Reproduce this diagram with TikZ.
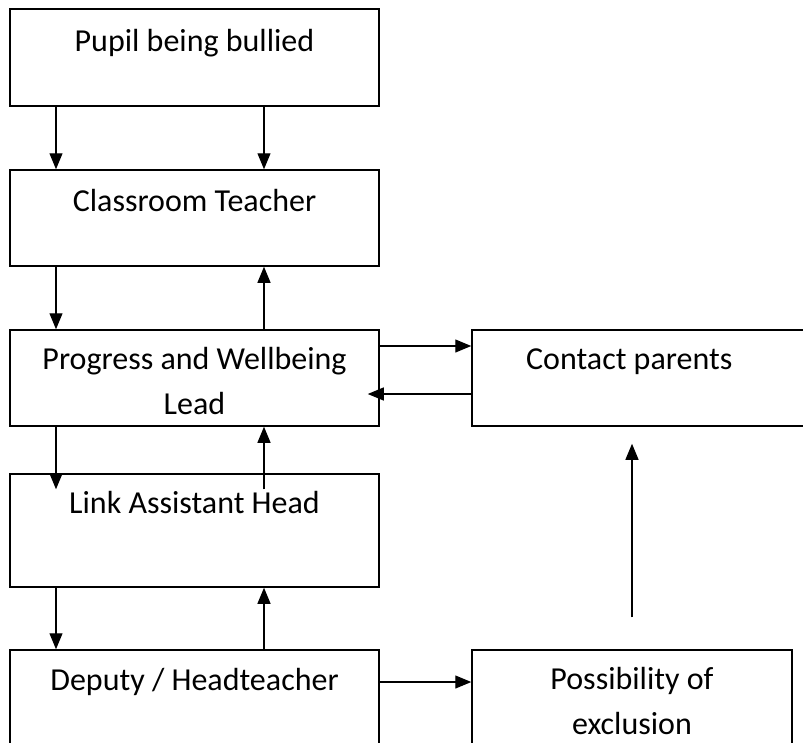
\documentclass[tikz,border=0pt]{standalone}
\usepackage{fontspec}
\setmainfont{Carlito}
\usetikzlibrary{arrows.meta}
\tikzset{
  box/.style={draw=black, line width=1.5pt, rectangle, inner sep=0pt},
  lbl/.style={anchor=base, inner sep=0pt, align=center,
    font=\fontsize{32}{45}\selectfont},
  arr/.style={line width=1.2pt, -{Triangle[length=16pt,width=13pt]}}
}
\begin{document}
\begin{tikzpicture}[x=1pt,y=-1pt]
\useasboundingbox (0,0) rectangle (803,742);
\clip (0,0) rectangle (803,742);
% boxes
\node[box, minimum width=369pt, minimum height=97pt] (b1) at (194.5,57.5) {};
\node[box, minimum width=369pt, minimum height=96pt] (b2) at (194.5,218) {};
\node[box, minimum width=369pt, minimum height=96pt] (b3) at (194.5,378) {};
\node[box, minimum width=343pt, minimum height=96pt] (b4) at (643.5,378) {};
\node[box, minimum width=369pt, minimum height=113pt] (b5) at (194.5,530.5) {};
\node[box, minimum width=369pt, minimum height=110pt] (b6) at (194.5,705) {};
\node[box, minimum width=320pt, minimum height=110pt] (b7) at (632,705) {};
% labels (base = baseline of last line)
\node[lbl] (t1) at ([yshift=-43pt]b1.north) {Pupil being bullied};
\node[lbl] (t2) at ([yshift=-42pt]b2.north) {Classroom Teacher};
\node[lbl] (t3) at ([yshift=-85pt]b3.north) {Progress and Wellbeing\\Lead};
\node[lbl] (t4) at ([xshift=158pt,yshift=-40pt]b4.north west) {Contact parents};
\node[lbl] (t5) at ([yshift=-40pt]b5.north) {Link Assistant Head};
\node[lbl] (t6) at ([yshift=-41pt]b6.north) {Deputy / Headteacher};
\node[lbl] (t7) at ([yshift=-85pt]b7.north) {Possibility of\\exclusion};
% level coordinates
\coordinate (xl) at (56,0);
\coordinate (xr) at (264,0);
\coordinate (yA) at (0,346);
\coordinate (yB) at (0,394);
\coordinate (yC) at (0,682);
% arrows
\draw[arr] (b1.south -| xl) -- (b2.north -| xl);
\draw[arr] (b1.south -| xr) -- (b2.north -| xr);
\draw[arr] (b2.south -| xl) -- (b3.north -| xl);
\draw[arr] (b3.north -| xr) -- (b2.south -| xr);
\draw[arr] (b3.east |- yA) -- (b4.west |- yA);
\draw[arr, shorten >=-12pt] (b4.west |- yB) -- (b3.east |- yB);
\draw[arr, shorten >=-16pt] (b3.south -| xl) -- (b5.north -| xl);
\draw[arr, shorten <=-16pt] (b5.north -| xr) -- (b3.south -| xr);
\draw[arr] (b5.south -| xl) -- (b6.north -| xl);
\draw[arr] (b6.north -| xr) -- (b5.south -| xr);
\draw[arr] (b6.east |- yC) -- (b7.west |- yC);
\draw[arr, shorten <=32pt, shorten >=17pt] (b7.north) -- (b7.north |- b4.south);
\end{tikzpicture}
\end{document}
